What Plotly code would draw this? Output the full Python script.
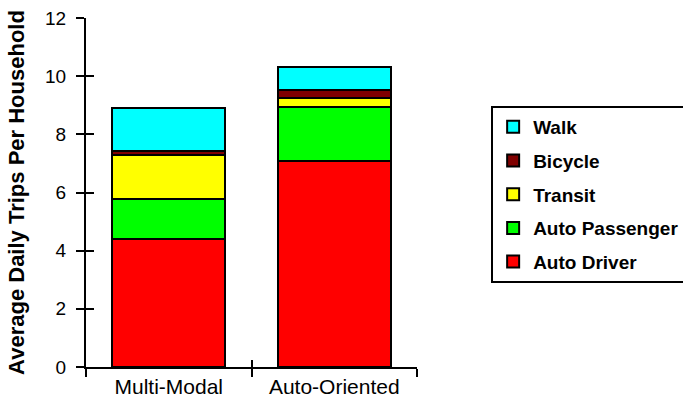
import plotly.graph_objects as go

# Household trip rates by neighbourhood type, stacked by travel mode
categories = ["Multi-Modal", "Auto-Oriented"]
auto_driver = [4.41, 7.08]
auto_passenger = [1.37, 1.87]
transit = [1.50, 0.31]
bicycle = [0.14, 0.26]
walk = [1.50, 0.78]

y_ticks = [0, 2, 4, 6, 8, 10, 12]

modes = [
    ("Auto Driver", auto_driver, "#FF0000"),
    ("Auto Passenger", auto_passenger, "#00FF00"),
    ("Transit", transit, "#FFFF00"),
    ("Bicycle", bicycle, "#800000"),
    ("Walk", walk, "#00FFFF"),
]

FONT = "Liberation Sans, Arial, sans-serif"

fig = go.Figure()
for i, (name, vals, color) in enumerate(modes):
    fig.add_trace(go.Bar(
        x=categories, y=vals, name=name, legendgroup=name,
        legendrank=1000 - i,  # top segment listed first
        marker=dict(color=color, line=dict(color="black", width=2)),
        width=0.68,
    ))

# empty trace that makes the overlay axes (inner half of the crossing ticks) render
fig.add_trace(go.Scatter(x=[None], y=[None], xaxis="x2", yaxis="y2",
                         mode="markers", showlegend=False, hoverinfo="skip"))

fig.update_layout(
    barmode="stack",
    width=683, height=408,
    margin=dict(l=86, r=266, t=18, b=41, autoexpand=False),
    paper_bgcolor="white", plot_bgcolor="white",
    font=dict(family=FONT, color="black"),
    showlegend=True,
    legend=dict(
        x=1.224, y=0.748, xanchor="left", yanchor="top",
        traceorder="grouped", tracegroupgap=6,
        bordercolor="black", borderwidth=2,
        font=dict(family=FONT, size=19, color="black", weight="bold"),
        itemwidth=30,
    ),
    xaxis=dict(
        type="category", range=[-0.5, 1.5], automargin=False,
        showline=True, linecolor="black", linewidth=2,
        ticks="outside", ticklen=8, tickwidth=2, tickcolor="black",
        tickson="boundaries",
        tickfont=dict(family=FONT, size=21, color="black"),
        showgrid=False, zeroline=False,
    ),
    xaxis2=dict(
        overlaying="x", anchor="y", range=[-0.5, 1.5], automargin=False,
        tickvals=[-0.5, 0.5, 1.5], showticklabels=False,
        ticks="inside", ticklen=7, tickwidth=2, tickcolor="black",
        showline=False, showgrid=False, zeroline=False,
    ),
    yaxis=dict(
        range=[0, 12], tickvals=y_ticks, automargin=False,
        showline=True, linecolor="black", linewidth=2,
        ticks="outside", ticklen=8, tickwidth=2, tickcolor="black",
        tickfont=dict(family=FONT, size=19, color="black"),
        ticklabelstandoff=6,
        showgrid=False, zeroline=False,
        title=dict(text="<b>Average Daily Trips Per Household</b>",
                   font=dict(family=FONT, size=22, color="black"),
                   standoff=14),
    ),
    yaxis2=dict(
        overlaying="y", anchor="x", range=[0, 12], tickvals=y_ticks,
        automargin=False, showticklabels=False,
        ticks="inside", ticklen=8, tickwidth=2, tickcolor="black",
        showline=False, showgrid=False, zeroline=False,
    ),
)

fig.write_html("out.html")
